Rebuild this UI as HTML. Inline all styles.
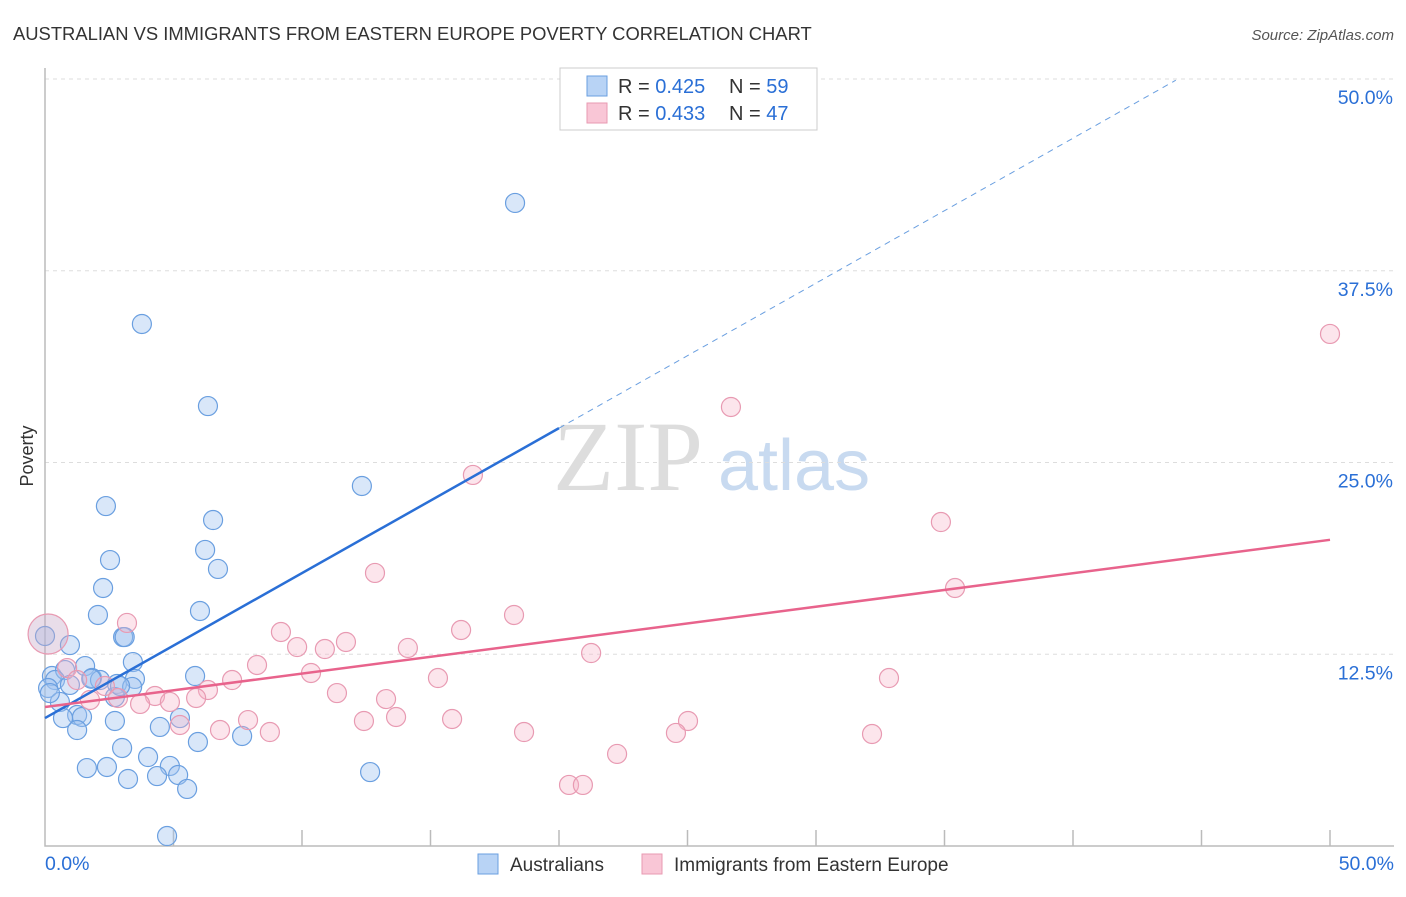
<!DOCTYPE html>
<html><head><meta charset="utf-8"><style>
body{margin:0;background:#fff;font-family:"Liberation Sans",sans-serif;}
</style></head><body>
<svg id="chart" width="1406" height="892" viewBox="0 0 1406 892" xmlns="http://www.w3.org/2000/svg" font-family="Liberation Sans, sans-serif">
<text x="13" y="40" font-size="18.4" fill="#333">AUSTRALIAN VS IMMIGRANTS FROM EASTERN EUROPE POVERTY CORRELATION CHART</text>
<text x="1394" y="40" font-size="15" fill="#555" text-anchor="end" font-style="italic">Source: ZipAtlas.com</text>
<text transform="translate(33,456) rotate(-90)" font-size="18" fill="#333" text-anchor="middle">Poverty</text>
<g>
<text x="553" y="490" font-size="100" fill="#ddd" style="font-family:'Liberation Serif',serif">ZIP</text>
<text x="718" y="490" font-size="72" fill="#c8daf0">atlas</text>
</g>
<g id="grid"></g>
<g id="axes"></g>
<g id="pts"></g>
<g id="lines"></g>
<g>
<rect x="560" y="68" width="257" height="62" fill="#fff" stroke="#ccc"/>
<rect x="587" y="76" width="20" height="20" fill="#b8d3f5" stroke="#6a9fe0"/>
<rect x="587" y="103" width="20" height="20" fill="#f9c6d6" stroke="#e89ab2"/>
<text x="618" y="93" font-size="20" fill="#333">R = <tspan fill="#2a6fd6">0.425</tspan></text>
<text x="729" y="93" font-size="20" fill="#333">N = <tspan fill="#2a6fd6">59</tspan></text>
<text x="618" y="120" font-size="20" fill="#333">R = <tspan fill="#2a6fd6">0.433</tspan></text>
<text x="729" y="120" font-size="20" fill="#333">N = <tspan fill="#2a6fd6">47</tspan></text>
</g>
<g>
<rect x="478" y="854" width="20" height="20" fill="#b8d3f5" stroke="#6a9fe0"/>
<text x="510" y="871" font-size="19" fill="#333">Australians</text>
<rect x="642" y="854" width="20" height="20" fill="#f9c6d6" stroke="#e89ab2"/>
<text x="674" y="871" font-size="19" fill="#333">Immigrants from Eastern Europe</text>
</g>
</svg>
<script>
const yTicks=[12.5,25,37.5,50];
const yTickLabels=["12.5%","25.0%","37.5%","50.0%"];
const xTickLabels=["0.0%","50.0%"];
const blueX=[18.29,3.77,6.34,12.33,2.37,6.54,2.53,6.23,6.73,2.26,2.06,6.03,3.04,0.97,3.42,0.27,1.56,0.78,1.83,2.14,5.84,3.50,2.80,3.39,0.39,0.97,0.12,0.58,2.72,0.19,1.25,1.44,0.70,2.72,5.25,1.25,4.47,7.67,5.95,3.00,4.01,4.86,1.63,2.41,5.18,4.36,3.23,5.53,12.65,4.75,2.92,0,3.1,1.8];
const blueY=[41.92,34.03,28.68,23.47,22.16,21.25,18.64,19.30,18.06,16.82,15.06,15.32,13.62,13.10,11.99,11.08,11.73,11.47,10.95,10.82,11.08,10.89,10.56,10.37,10.82,10.50,10.30,9.39,9.71,9.97,8.54,8.41,8.34,8.15,8.34,7.56,7.76,7.17,6.78,6.39,5.80,5.22,5.08,5.15,4.63,4.56,4.37,3.72,4.82,0.65,10.43,13.69,13.62,10.9];
const pinkX=[50,26.69,16.65,34.86,35.41,12.84,18.25,3.19,16.19,9.18,11.71,9.81,10.89,14.12,21.25,0.86,8.25,10.35,32.84,15.29,7.28,2.33,1.25,6.34,4.28,4.86,5.88,11.36,13.27,3.70,1.75,2.84,7.90,12.41,13.66,15.84,25.02,5.25,6.81,8.75,18.64,24.55,32.18,22.26,20.39,20.93];
const pinkY=[33.38,28.62,24.19,21.12,16.82,17.80,15.06,14.54,14.08,13.95,13.30,12.97,12.84,12.91,12.58,11.60,11.80,11.28,10.95,10.95,10.82,10.43,10.82,10.17,9.78,9.39,9.65,9.97,9.58,9.26,9.52,9.65,8.21,8.15,8.41,8.28,8.15,7.89,7.56,7.43,7.43,7.37,7.30,6.00,3.98,3.98];
const blueLine=[8.34,0.945];
const pinkLine=[9.06,0.218];
const X=v=>45+v/50*1285, Y=v=>846-v/12.5*191.75;
const NS="http://www.w3.org/2000/svg";
function mk(p,t,a){const e=document.createElementNS(NS,t);for(const k in a)e.setAttribute(k,a[k]);p.appendChild(e);return e;}
const grid=document.getElementById('grid'),axes=document.getElementById('axes'),pts=document.getElementById('pts'),lines=document.getElementById('lines');
yTicks.forEach((t,i)=>{
 const g=mk(grid,'line',{x1:45,x2:1394,y1:Y(t),y2:Y(t),stroke:'#ddd','stroke-dasharray':'4,4'});
 
 
 const l=mk(axes,'text',{x:1393,y:Y(t)+25,'font-size':19.5,fill:'#2a6fd6','text-anchor':'end'});
 l.textContent=yTickLabels[i];
 
 
});
const ax=mk(axes,'path',{d:'M45,68V846H1394',fill:'none',stroke:'#bbb','stroke-width':1.5});


for(let i=1;i<=10;i++){const tk=mk(axes,'line',{x1:X(i*5),x2:X(i*5),y1:830,y2:846,stroke:'#bbb','stroke-width':1.5});
 
 }
[[0,'start',45],[1,'end',1394]].forEach(([i,a,x])=>{const l=mk(axes,'text',{x:x,y:870,'font-size':19.5,fill:'#2a6fd6','text-anchor':a});l.textContent=xTickLabels[i];
 
 });
blueX.forEach((v,i)=>{const c=mk(pts,'circle',{cx:X(v),cy:Y(blueY[i]),r:9.5,fill:'rgba(160,196,240,0.4)',stroke:'#6a9fe0','stroke-width':1.2});
 
 });
pinkX.forEach((v,i)=>{const c=mk(pts,'circle',{cx:X(v),cy:Y(pinkY[i]),r:9.5,fill:'rgba(245,180,200,0.35)',stroke:'#e89ab2','stroke-width':1.2});
 
 });
const big=mk(pts,'circle',{cx:X(0.12),cy:Y(13.82),r:20,fill:'rgba(200,170,200,0.4)',stroke:'#e89ab2','stroke-width':1.2});


const bEnd=20, bDash=44;
const b1=mk(lines,'line',{x1:X(0),y1:Y(blueLine[0]),x2:X(bEnd),y2:Y(blueLine[0]+blueLine[1]*bEnd),stroke:'#2a6fd6','stroke-width':2.5});


const b2=mk(lines,'line',{x1:X(bEnd),y1:Y(blueLine[0]+blueLine[1]*bEnd),x2:X(bDash),y2:Y(blueLine[0]+blueLine[1]*bDash),stroke:'#6a9fe0','stroke-width':1,'stroke-dasharray':'6,5'});


const p1=mk(lines,'line',{x1:X(0),y1:Y(pinkLine[0]),x2:X(50),y2:Y(pinkLine[0]+pinkLine[1]*50),stroke:'#e8638c','stroke-width':2.5});


</script>
</body></html>
